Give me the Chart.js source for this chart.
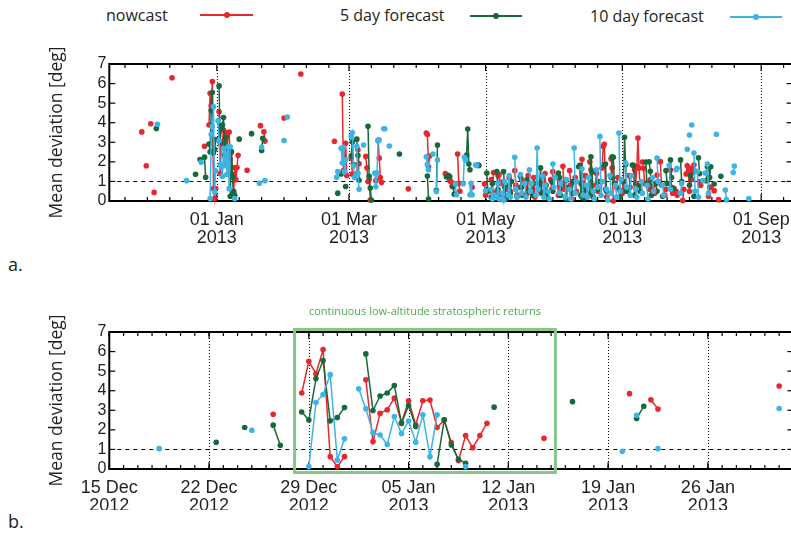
<!DOCTYPE html>
<html>
<head>
<meta charset="utf-8">
<script src="https://cdn.jsdelivr.net/npm/chart.js@4.4.0/dist/chart.umd.min.js"></script>
<style>
  html, body { margin: 0; padding: 0; background: #fff; overflow: hidden; width: 791px; height: 543px; }
  #wrap { position: relative; width: 791px; height: 543px; overflow: hidden; }
  canvas { position: absolute; left: 0; }
  .txt { position: absolute; font-family: "Open Sans", "Noto Sans", sans-serif; font-size: 16px; color: #231f20; line-height: 1; white-space: nowrap; }
  .smp { position: absolute; height: 2px; }
  .smp i { position: absolute; left: 50%; top: 50%; width: 6px; height: 6px; margin: -3px 0 0 -3px; border-radius: 50%; }
</style>
</head>
<body>
<div id="wrap">
  <div class="txt" style="left:106px;top:7px;">nowcast</div>
  <div class="smp" style="left:200px;top:14px;width:53px;background:#e8262d;"><i style="background:#e8262d"></i></div>
  <div class="txt" style="left:340px;top:7px;">5 day forecast</div>
  <div class="smp" style="left:470px;top:15px;width:52px;background:#15693a;"><i style="background:#15693a"></i></div>
  <div class="txt" style="left:590px;top:8px;">10 day forecast</div>
  <div class="smp" style="left:730px;top:16px;width:52px;background:#3cb4e5;"><i style="background:#3cb4e5"></i></div>
  <div class="txt" style="left:8px;top:255px;font-size:18px;">a.</div>
  <div class="txt" style="left:8px;top:512px;font-size:18px;">b.</div>
  <canvas id="chartA" width="800" height="215" style="top:40px"></canvas>
  <canvas id="chartB" width="800" height="210" style="top:300px"></canvas>
</div>
<script>
// days counted from 01 Jan 2013, values in degrees, 12 h sampling
const nowcast = [
  [-33.5,3.53],[-31.5,1.8],[-29.5,3.95],[-28,0.44],[-20,6.3],
  [-5.5,2.8],
  [-3.5,3.88],[-3,5.5],[-2.5,4.87],[-2,6.1],[-1.5,0.63],[-1,0.12],[-0.5,0.63],
  [1,4.56],[1.5,1.4],[2,2.84],[2.5,3.03],[3,3.62],[3.5,2.37],[4,3.49],[4.5,2.26],[5,3.49],[5.5,3.52],
  [6,2.12],[6.5,2.51],[7,1.35],[7.5,0.43],[8,1.71],[8.5,1.09],[9,1.71],[9.5,2.34],
  [13.5,1.57],[19.5,3.85],[21,3.54],[21.5,3.06],[30,4.24],
  [37.5,6.49],[52.5,3.05],
  [56,5.47],[56.5,1.55],[57,2.2],[57.5,2.95],[58,1.3],
  [60,2.2],[60.5,1.38],[61,1.35],
  [62.5,1.4],[63,2.62],[63.5,1.9],
  [66.5,2.28],[67,1.7],[67.5,1.0],[68,1.1],[68.5,0.05],
  [71,1.04],[72,3.1],[72.5,2.2],[73,1.2],[73.5,0.95],
  [85.5,0.62],
  [93.5,3.47],[94,3.4],[94.5,1.75],[95,2.3],
  [102,1.4],[102.5,1.35],[103,1.3],[103.5,1.2],[104,1.04],[104.5,1.0],[105,0.75],
  [107.5,2.4],[108,0.9],[108.5,0.5],
  [114,0.7],[119.5,0.88],[120,0.3],
  [122.5,1.1],[123,0.5],[123.5,1.45],
  [125,0.4],[125.5,1.3],[126,1.34],[126.5,0.9],
  [128,1.0],[128.5,0.2],[129,0.6],
  [130.5,1.2],[131,0.5],
  [133,1.55],[133.5,0.8],[134,0.3],
  [135.5,0.7],[136,1.1],
  [138,0.97],[138.5,0.4],[139,1.3],
  [141,0.6],[141.5,1.2],[142,0.2],
  [144,0.9],[144.5,0.5],
  [146,0.87],[146.5,1.4],[147,0.3],
  [149,1.09],[149.5,0.6],[150,1.5],
  [152,1.26],[152.5,0.3],[153,0.8],
  [154.5,1.77],[155,0.6],[155.5,1.0],
  [157.5,1.55],[158,0.83],[158.5,0.1],
  [160,1.2],[160.5,0.5],
  [162.5,0.9],[163,2.13],[163.5,0.7],[164,0.5],[164.5,1.3],
  [166.5,2.0],[167,1.6],[167.5,0.3],
  [169,0.8],[169.5,1.4],[170,0.5],
  [172,1.69],[172.5,2.8],[173,2.9],[173.5,0.6],[174,0.2],
  [176,2.15],[176.5,1.69],[177,0.0],
  [178.5,0.7],[179,1.2],
  [181,0.4],[181.5,1.0],[182,0.6],
  [184,1.3],[184.5,0.7],
  [186.5,1.6],[187,0.9],[187.5,1.75],[188,3.22],[188.5,1.69],[189,0.5],
  [190,1.99],[190.5,1.67],[191,0.9],
  [193,0.6],[193.5,1.1],
  [194.5,0.5],[195,0.8],[195.5,0.4],
  [196.5,1.33],[197,1.0],[198,2.01],[198.5,0.82],
  [200,0.3],[200.5,0.6],
  [202.5,1.58],[203,0.7],[203.5,0.4],
  [205,0.5],[205.5,0.3],
  [208,0.02],[208.5,0.6],
  [209.5,1.38],[210,1.8],[210.5,1.5],[211,0.5],[211.5,1.67],[212,1.1],[212.5,1.5],[213,1.84],[213.5,1.52],
  [215.5,0.99],[216,0.8],
  [219.5,0.24],[220,0.7],[220.5,0.7],
  [222,0.53],[224,0.07]
];

const forecast5 = [
  [-27,3.71],
  [-9.5,1.37],[-7.5,2.12],[-5.5,2.24],[-5,1.21],
  [-3.5,2.91],[-3,2.51],[-2.5,4.62],[-2,5.54],[-1.5,2.46],[-1,2.63],[-0.5,3.14],
  [1,5.88],[1.5,2.99],[2,3.73],[2.5,3.88],[3,4.27],[3.5,2.33],[4,3.25],[4.5,2.17],
  [6,0.24],[6.5,2.51],[7,1.23],[7.5,0.5],[8,0.29],
  [10,3.16],[15.5,3.44],[20,2.58],[20.5,3.21],
  [54,0.4],[55.5,1.38],[57.5,0.74],
  [60,2.31],[60.5,3.02],[61,1.86],
  [62.5,3.16],[63,2.33],[63.5,1.06],
  [67.5,3.82],[68,1.26],[68.5,0.66],[69,0.05],
  [81.5,2.4],
  [94,1.28],[94.5,0.1],[98,0.55],[98.5,2.86],
  [102.5,1.24],[103,1.28],[103.5,1.3],[104,1.24],[105.5,0.73],[106,0.35],
  [111.5,2.35],[112,3.68],[112.5,1.89],[113,1.6],
  [116.5,1.84],[117,1.82],
  [120.5,1.43],[121,0.5],
  [122.5,0.2],[123,0.9],
  [125,1.5],[125.5,0.6],[126,0.3],
  [128,1.5],[128.5,0.7],[129,0.1],
  [130.5,0.8],[131,0.4],[131.5,1.0],
  [133.5,0.6],[134,0.2],
  [135.5,1.26],[136,0.7],[136.5,0.3],
  [138.5,1.1],[139,0.5],
  [141,0.3],[141.5,0.9],
  [144,0.6],[144.5,1.69],[145,0.4],
  [147,0.8],[147.5,0.2],
  [149.5,1.0],[150,0.5],
  [152.5,1.43],[153,1.2],[153.5,0.3],[154,0.9],
  [156,0.1],[156.5,0.7],
  [158.5,0.4],[159,1.0],
  [161.5,1.75],[162,1.82],[162.5,0.3],[163,0.2],[163.5,0.4],[164,0.15],[164.5,0.6],
  [166.5,0.4],[167,2.26],[167.5,1.48],[168,0.2],
  [170,0.6],[170.5,1.0],
  [173,1.84],[173.5,1.89],[174,0.5],
  [176,1.2],[176.5,2.26],[177,2.23],[177.5,0.9],
  [179.5,0.6],[180,0.2],
  [181.5,1.0],[182,3.26],[182.5,1.86],[183,0.5],
  [185.5,1.84],[186,1.82],[186.5,0.3],
  [188.5,0.8],[189,0.5],
  [191.5,1.99],[192,0.9],
  [193,2.0],[193.5,1.52],[194,0.3],
  [196,0.9],[196.5,0.5],
  [199,0.24],
  [200.5,1.55],[201,0.9],
  [202.5,2.1],[203,1.2],
  [204,0.65],
  [207,2.1],[207.5,1.0],
  [211,0.8],[211.5,1.3],
  [213,0.24],
  [215,2.21],[215.5,1.4],
  [218.5,1.04],[219,1.75],[219.5,1.75],[220,1.2],[220.5,1.75],
  [222,0.87],[225,1.26]
];

const forecast10 = [
  [-26.5,3.92],
  [-13.5,1.04],[-7,1.98],
  [-3,0.12],[-2.5,3.4],[-2,3.81],[-1.5,4.82],[-1,0.46],[-0.5,1.54],
  [0.5,4.1],[1,3.08],[1.5,1.86],[2,1.74],[2.5,1.25],[3,2.68],[3.5,1.81],[4,2.45],[4.5,1.37],[5,2.77],[5.5,0.63],[6,2.77],
  [8,0.12],[19,0.91],[20,2.75],[21.5,1.04],[30,3.09],[31.5,4.29],
  [53.5,1.21],[54,1.5],
  [55.5,2.69],[56,1.94],[56.5,2.74],[57,1.5],[57.5,2.1],
  [60,3.3],[60.5,3.49],[61,1.8],[61.5,1.2],
  [62.5,2.8],[63,1.41],[63.5,0.6],
  [65.5,2.86],
  [70.5,1.43],[71,0.73],[71.5,1.43],[72,3.07],[72.5,3.13],
  [74.5,3.69],[75,3.69],
  [77,2.81],
  [93.5,2.26],[94,1.87],[94.5,1.6],
  [96.5,2.4],[98,0.48],[98.5,2.1],
  [106.5,0.88],[107,0.32],
  [110,0.88],[110.5,2.23],[111,2.08],
  [113,0.32],[113.5,0.9],[114,0.32],
  [115.5,1.84],[116,1.82],
  [120,0.53],
  [122.5,0.6],[123,0.1],[123.5,0.3],
  [125,0.2],[125.5,0.9],[126,0.1],
  [127.5,0.4],[128,0.05],[128.5,1.0],
  [130,0.3],[130.5,1.3],[131,0.2],
  [133,2.23],[133.5,0.6],[134,0.2],
  [135.5,1.35],[136,0.4],
  [137.5,0.9],[138,0.2],
  [139.5,1.6],[140,0.5],[140.5,0.9],
  [142.5,0.3],[143,2.71],[143.5,0.6],
  [145.5,1.26],[146,0.2],[146.5,0.8],
  [148,0.5],[148.5,0.1],
  [150,1.89],[150.5,0.7],[151,1.2],
  [153,0.4],[153.5,0.9],
  [155.5,0.2],[156,1.1],
  [157.5,0.6],[158,0.1],
  [159.5,2.71],[160,0.4],[160.5,1.0],
  [163,1.65],[163.5,0.3],
  [165,0.8],[165.5,0.2],[166,1.2],
  [168,0.5],[168.5,0.1],
  [169.5,1.6],[170,0.7],
  [171,3.3],[171.5,0.3],[172,1.0],
  [174,0.6],[174.5,0.05],
  [175.5,1.3],[176,0.4],
  [178,0.8],[178.5,0.2],
  [179.5,3.47],[180,0.5],[180.5,1.1],
  [182.5,1.94],[183,0.7],
  [184.5,0.3],[185,1.3],
  [187,0.6],[187.5,0.2],
  [189.5,1.0],[190,0.4],
  [192,0.8],[192.5,0.1],
  [194.5,1.2],[195,0.5],
  [196.5,2.2],[197,1.0],
  [199,0.8],[199.5,0.3],
  [202,1.82],[202.5,0.6],
  [205,1.6],[205.5,1.67],
  [207,0.4],[207.5,0.9],
  [210,2.64],[211,3.37],[212,3.88],
  [213,2.45],[213.5,0.5],
  [214.5,1.52],[215,0.2],
  [217,1.04],[218,1.43],
  [219,1.89],[219.5,0.4],
  [223,3.41],
  [227,0.56],[227.5,0.07],
  [230.5,1.45],[231,1.79],
  [237.5,0.12]
];

// x axis labels
const aTickDays   = [0, 59, 120, 181, 243];
const aTickLabels = [['01 Jan','2013'], ['01 Mar','2013'], ['01 May','2013'], ['01 Jul','2013'], ['01 Sep','2013']];
const aMonthStarts = [-61, 0, 59, 120, 181, 243];   // minor ticks every 10 days after each
const bTickDays   = [-17, -10, -3, 4, 11, 18, 25];
const bTickLabels = [['15 Dec','2012'], ['22 Dec','2012'], ['29 Dec','2012'], ['05 Jan','2013'], ['12 Jan','2013'], ['19 Jan','2013'], ['26 Jan','2013']];
const yTicks = [0, 1, 2, 3, 4, 5, 6, 7];

const RED = '#e8262d', GREEN = '#15693a', BLUE = '#3cb4e5';
const TICK_FONT = '"Liberation Sans", Arial, sans-serif';
const TEXT_COLOR = '#231f20';

// gnuplot-like frame: inward ticks, dotted grid at major ticks, dashed line at 1 deg
const framePlugin = {
  id: 'frame',
  beforeDatasetsDraw(chart, args, opts) {
    const { ctx, chartArea: a, scales: { x, y } } = chart;
    const seg = (x0, y0, x1, y1) => { ctx.beginPath(); ctx.moveTo(x0, y0); ctx.lineTo(x1, y1); ctx.stroke(); };
    ctx.save();
    ctx.strokeStyle = '#000';
    ctx.lineWidth = 1;
    ctx.setLineDash([1, 2]);
    opts.major.forEach(d => {
      const px = Math.round(x.getPixelForValue(d)) + 0.5;
      if (px > a.left + 2 && px < a.right - 2) seg(px, a.top, px, a.bottom);
    });
    ctx.setLineDash([4, 4]);
    const p1 = Math.round(y.getPixelForValue(1)) + 0.5;
    seg(a.left, p1, a.right, p1);
    ctx.setLineDash([]);
    ctx.lineWidth = 1.2;
    const tick = (d, len) => {
      const px = x.getPixelForValue(d);
      if (px < a.left || px > a.right) return;
      seg(px, a.bottom, px, a.bottom - len);
      seg(px, a.top, px, a.top + len);
    };
    opts.minor.forEach(d => tick(d, 4));
    opts.major.forEach(d => tick(d, 7));
    yTicks.forEach(v => {
      const py = y.getPixelForValue(v);
      seg(a.left, py, a.left + 6, py);
      seg(a.right, py, a.right - 6, py);
    });
    ctx.lineWidth = 2;
    ctx.strokeRect(a.left, a.top, a.right - a.left, a.bottom - a.top);
    ctx.restore();
  }
};

// green box marking the low-altitude returns in panel b
const boxPlugin = {
  id: 'box',
  afterDatasetsDraw(chart, args, opts) {
    if (!opts.show) return;
    const { ctx, scales: { x, y } } = chart;
    const l = x.getPixelForValue(opts.from), r = x.getPixelForValue(opts.to);
    const t = y.getPixelForValue(opts.top), b = y.getPixelForValue(opts.bottom);
    ctx.save();
    ctx.strokeStyle = '#86c986';
    ctx.lineWidth = 3;
    ctx.strokeRect(l, t, r - l, b - t);
    ctx.fillStyle = '#4daa4d';
    ctx.font = '11px "Open Sans", "Noto Sans", sans-serif';
    ctx.textAlign = 'center';
    ctx.textBaseline = 'middle';
    ctx.fillText(opts.text, (l + r) / 2, t - 18);
    ctx.restore();
  }
};

function series(label, pts, color, order) {
  return {
    label,
    data: pts.map(p => ({ x: p[0], y: p[1] })),
    borderColor: color,
    backgroundColor: color,
    borderWidth: 1.5,
    pointRadius: 2.8,
    pointBorderWidth: 0,
    pointBackgroundColor: color,
    order,
    clip: { left: 0, right: 0, top: 6, bottom: 6 },
    // only consecutive 12 h samples are joined
    segment: { borderColor: c => (c.p1.parsed.x - c.p0.parsed.x > 0.75 ? 'rgba(0,0,0,0)' : color) }
  };
}

function makeChart(id, cfg) {
  return new Chart(document.getElementById(id), {
    type: 'line',
    data: {
      datasets: [
        series('nowcast', nowcast, RED, 3),
        series('5 day forecast', forecast5, GREEN, 2),
        series('10 day forecast', forecast10, BLUE, 1)
      ]
    },
    options: {
      responsive: false,
      animation: false,
      events: [],
      layout: { padding: { top: cfg.padTop, right: 6.6, left: 0, bottom: 0 } },
      plugins: {
        legend: { display: false },
        tooltip: { enabled: false },
        frame: { major: cfg.tickDays, minor: cfg.minor },
        box: cfg.box
      },
      scales: {
        x: {
          type: 'linear',
          min: cfg.min,
          max: cfg.max,
          afterBuildTicks: s => { s.ticks = cfg.tickDays.map(v => ({ value: v })); },
          afterFit: s => { s.height = cfg.xHeight; },
          grid: { display: false, drawTicks: false },
          border: { display: false },
          ticks: {
            autoSkip: false,
            maxRotation: 0,
            padding: 10,
            color: TEXT_COLOR,
            font: { family: TICK_FONT, size: 18, lineHeight: 1.0 },
            callback: v => cfg.tickLabels[cfg.tickDays.indexOf(v)]
          }
        },
        y: {
          min: 0,
          max: 7,
          afterBuildTicks: s => { s.ticks = yTicks.map(v => ({ value: v })); },
          afterFit: s => { s.width = 109.3; },
          grid: { display: false, drawTicks: false },
          border: { display: false },
          ticks: { autoSkip: false, padding: 3, color: TEXT_COLOR, font: { family: TICK_FONT, size: 16 } },
          title: {
            display: true,
            text: 'Mean deviation [deg]',
            color: TEXT_COLOR,
            font: { family: '"Open Sans", "Noto Sans", sans-serif', size: 17.5 },
            padding: { top: 47, bottom: 0 }
          }
        }
      }
    },
    plugins: [framePlugin, boxPlugin]
  });
}

const aMinor = [];
aMonthStarts.forEach(m => { for (let k = 1; k <= 5; k++) aMinor.push(m + 10 * k); });
const bMinor = [];
for (let d = -17; d <= 31; d++) bMinor.push(d);

makeChart('chartA', {
  min: -48, max: 257, padTop: 24, xHeight: 54,
  tickDays: aTickDays, tickLabels: aTickLabels, minor: aMinor,
  box: { show: false }
});

makeChart('chartB', {
  min: -17, max: 31, padTop: 32, xHeight: 41,
  tickDays: bTickDays, tickLabels: bTickLabels, minor: bMinor,
  box: { show: true, from: -4, to: 14.3, top: 7.13, bottom: -0.18,
         text: 'continuous low-altitude stratospheric returns' }
});
</script>
</body>
</html>
